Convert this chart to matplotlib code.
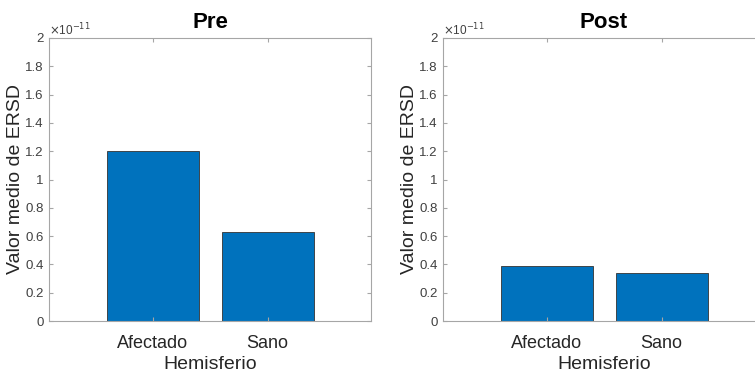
import matplotlib
matplotlib.use("Agg")
import matplotlib.pyplot as plt
from matplotlib.ticker import FuncFormatter

categories = ["Afectado", "Sano"]
pre_values = [1.204e-11, 0.631e-11]
post_values = [0.389e-11, 0.339e-11]
titles = ["Pre", "Post"]
y_ticks = [0, 0.2, 0.4, 0.6, 0.8, 1.0, 1.2, 1.4, 1.6, 1.8, 2.0]
scale = 1e-11

plt.rcParams["font.family"] = ["Liberation Sans", "DejaVu Sans"]

fig = plt.figure(figsize=(7.55, 3.74), dpi=100)
positions = [
    [49 / 755, 1 - 321 / 374, 322 / 755, 283 / 374],
    [443 / 755, 1 - 321 / 374, 322 / 755, 283 / 374],
]
bar_color = "#0072BD"
axis_color = "#a6a6a6"
text_color = "#404040"

for pos, title, values in zip(positions, titles, [pre_values, post_values]):
    ax = fig.add_axes(pos)
    x = list(range(1, len(categories) + 1))
    ax.bar(x, values, width=0.8, color=bar_color, edgecolor="#333333", linewidth=0.6)
    ax.set_xlim(0.1, 2.9)
    ax.set_ylim(0, 2 * scale)
    ax.set_xticks(x)
    ax.set_xticklabels(categories, fontsize=13, color="#262626")
    ax.set_yticks([t * scale for t in y_ticks])
    ax.yaxis.set_major_formatter(FuncFormatter(lambda v, p: f"{v / scale:g}"))
    ax.tick_params(axis="y", labelsize=9.5, labelcolor=text_color, pad=4)
    ax.tick_params(axis="x", pad=10)
    ax.tick_params(direction="in", top=True, right=True, length=3,
                   color=axis_color, width=0.8)
    for s in ax.spines.values():
        s.set_color(axis_color)
        s.set_linewidth(0.8)
    ax.set_xlabel("Hemisferio", fontsize=14, color="#262626", labelpad=3)
    ax.set_ylabel("Valor medio de ERSD", fontsize=14, color="#262626", labelpad=1)
    ax.set_title(title, fontsize=16, fontweight="bold", pad=7)
    ax.text(0.0, 1.0, r"$\times$10$^{-11}$", transform=ax.transAxes,
            fontsize=8.5, color=text_color, ha="left", va="bottom")

fig.savefig("out.png", dpi=100)
